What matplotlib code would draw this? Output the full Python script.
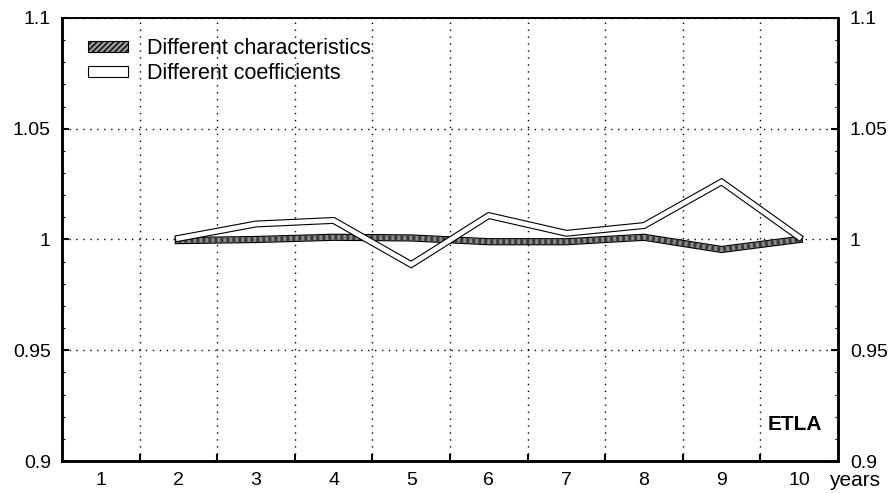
import matplotlib.pyplot as plt
from matplotlib.patches import Patch
from matplotlib.ticker import MultipleLocator, FixedLocator

plt.rcParams['font.family'] = ['Liberation Sans', 'DejaVu Sans']

years = [2, 3, 4, 5, 6, 7, 8, 9, 10]
characteristics = [0.9995, 1.000, 1.001, 1.0007, 0.999, 0.999, 1.001, 0.9955, 1.000]
coefficients = [1.0005, 1.007, 1.0086, 0.9887, 1.0108, 1.0028, 1.0063, 1.026, 1.001]
xlabels = ['1', '2', '3', '4', '5', '6', '7', '8', '9', '10']
yticks = [0.9, 0.95, 1.0, 1.05, 1.1]
ylabels = ['0.9', '0.95', '1', '1.05', '1.1']

fig = plt.figure(figsize=(8.93, 4.93), dpi=100)
ax = fig.add_axes([0.0694, 0.0649, 0.8690, 0.8986])

# series drawn as ribbons: dark outline + lighter core
ax.plot(years, characteristics, color='black', lw=5.2, solid_joinstyle='miter', zorder=3)
ax.plot(years, characteristics, color='#8c8c8c', lw=3.6, solid_joinstyle='miter', zorder=3)
ax.plot(years, characteristics, color='#3a3a3a', lw=3.6, ls=(0, (0.6, 0.6)), zorder=3)
ax.plot(years, coefficients, color='black', lw=5.0, solid_joinstyle='miter', zorder=4)
ax.plot(years, coefficients, color='white', lw=3.4, solid_joinstyle='miter', zorder=4)

ax.set_xlim(0.5, 10.5)
ax.set_ylim(0.9, 1.1)
ax.set_xticks(range(1, 11))
ax.set_xticklabels(xlabels)
ax.xaxis.set_minor_locator(FixedLocator([i + 0.5 for i in range(1, 10)]))
ax.set_yticks(yticks)
ax.set_yticklabels(ylabels)
ax.yaxis.set_minor_locator(MultipleLocator(0.01))

ax.tick_params(axis='x', which='major', length=0, labelsize=14, pad=8)
ax.tick_params(axis='x', which='minor', direction='in', length=5, width=1.5)
ax.tick_params(axis='y', which='major', direction='in', length=5, width=1.5,
               labelsize=14, pad=8)
ax.tick_params(axis='y', which='minor', direction='in', length=2, width=0.8)

# right axis with the same scale
ax2 = ax.twinx()
ax2.set_ylim(0.9, 1.1)
ax2.set_yticks(yticks)
ax2.set_yticklabels(ylabels)
ax2.yaxis.set_minor_locator(MultipleLocator(0.01))
ax2.tick_params(axis='y', which='major', direction='in', length=5, width=1.5,
                labelsize=14, pad=8.5)
ax2.tick_params(axis='y', which='minor', direction='in', length=2, width=0.8)

ax.grid(True, axis='x', which='minor', color='black', ls=(0, (1, 4)), lw=1)
ax.grid(True, axis='y', which='major', color='black', ls=(0, (1, 4)), lw=1)
ax.set_axisbelow(True)

for a in (ax, ax2):
    for s in ['left', 'right', 'bottom']:
        a.spines[s].set_linewidth(1.8)
    a.spines['top'].set_linewidth(1.2)

handles = [Patch(facecolor='#9a9a9a', edgecolor='black', hatch='//////', lw=0.8),
           Patch(facecolor='white', edgecolor='black', lw=0.8)]
ax2.legend(handles, ['Different characteristics', 'Different coefficients'],
           loc='upper left', bbox_to_anchor=(0.022, 0.974), frameon=False,
           fontsize=15.5, handlelength=1.86, handleheight=0.42, handletextpad=0.88,
           labelspacing=0.2, borderaxespad=0)

ax.text(0.945, 0.083, 'ETLA', transform=ax.transAxes, ha='center', va='center',
        fontsize=15, fontweight='bold')
fig.text(0.957, 0.026, 'years', ha='center', va='center', fontsize=15)

fig.savefig('out.png', dpi=100)
